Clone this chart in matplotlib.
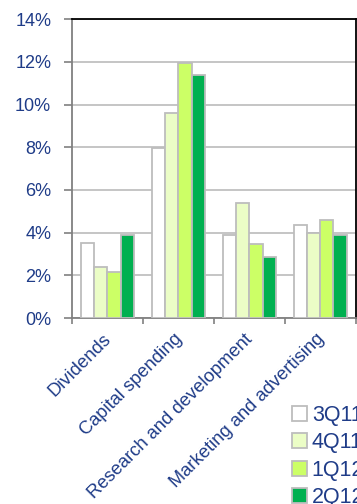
import matplotlib.pyplot as plt
import matplotlib.transforms as mtransforms
import numpy as np

plt.rcParams['font.family'] = ['Liberation Sans', 'DejaVu Sans']

# spending categories and quarterly shares (%)
categories = ["Dividends", "Capital spending", "Research and development",
              "Marketing and advertising"]
quarters = ["3Q11", "4Q11", "1Q12", "2Q12"]
q3_11 = [3.5, 7.95, 3.9, 4.35]
q4_11 = [2.4, 9.6, 5.4, 4.0]
q1_12 = [2.15, 11.95, 3.45, 4.6]
q2_12 = [3.9, 11.4, 2.85, 3.9]

colors = ["#FFFFFF", "#EBFDC6", "#CCFF66", "#00B050"]
navy = "#1F3C88"
edge = "#BDBDBD"

fig = plt.figure(figsize=(3.57, 5.04), dpi=100)
ax = fig.add_axes([0.2017, 0.369, 0.795, 0.593])

x = np.arange(len(categories))
w = 0.185
series = [q3_11, q4_11, q1_12, q2_12]
for i, (vals, c, q) in enumerate(zip(series, colors, quarters)):
    ax.bar(x + (i - 1.5) * w, vals, w, color=c, edgecolor=edge,
           linewidth=1.3, label=q, zorder=3)

ax.set_xlim(-0.5, len(categories) - 0.5)
ax.set_ylim(0, 14)
ax.set_yticks(np.arange(0, 15, 2))
ax.set_yticklabels([f"{v}%" for v in range(0, 15, 2)])
ax.yaxis.grid(True, color="#C0C0C0", linewidth=1.3, zorder=0)
ax.set_axisbelow(True)

ax.set_xticks(np.arange(-0.5, len(categories), 1.0))
ax.set_xticklabels([])
ax.set_xticks(x, minor=True)
ax.set_xticklabels(categories, minor=True, rotation=45, ha="right",
                   va="top", rotation_mode="anchor", fontsize=13.2,
                   color=navy)
ax.tick_params(axis="x", which="minor", length=0, pad=9)
ax.tick_params(axis="x", which="major", length=4, color="#808080", width=1.2)
ax.tick_params(axis="y", length=6, color="#808080", width=1.2,
               labelsize=13, labelcolor=navy, pad=9)

# nudge the slanted category names a little to the left
shift = mtransforms.ScaledTranslation(-5 / 100, 0, fig.dpi_scale_trans)
for lbl in ax.get_xticklabels(minor=True):
    lbl.set_transform(lbl.get_transform() + shift)

for s in ["left", "bottom"]:
    ax.spines[s].set_color("#808080")
    ax.spines[s].set_linewidth(1.3)
for s in ["top", "right"]:
    ax.spines[s].set_color("black")
    ax.spines[s].set_linewidth(1.3)

fig.legend(loc="upper left", bbox_to_anchor=(0.795, 0.214), frameon=False,
           fontsize=15.5, labelcolor=navy, handlelength=0.7, handleheight=0.7,
           handletextpad=0.2, labelspacing=0.3, borderaxespad=0)

fig.savefig("out.png", dpi=100)
